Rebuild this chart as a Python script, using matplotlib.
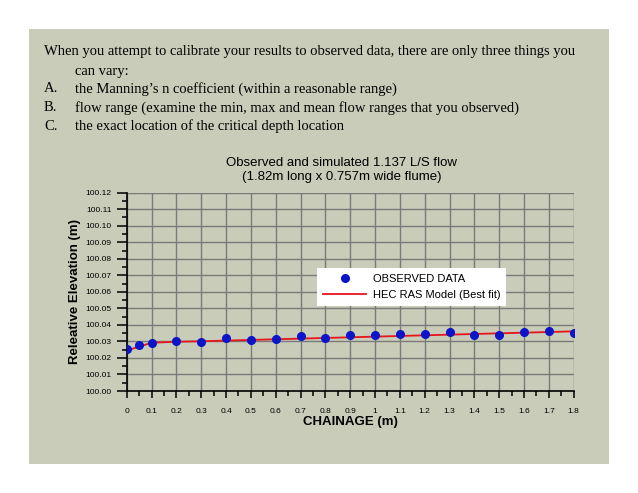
import matplotlib
matplotlib.use("Agg")
import matplotlib.pyplot as plt
from matplotlib.patches import Rectangle
from matplotlib.ticker import MultipleLocator, FuncFormatter

plt.rcParams["font.family"] = ["Liberation Sans", "DejaVu Sans"]

# observed water surface
obs_x = [0, 0.05, 0.1, 0.2, 0.3, 0.4, 0.5, 0.6, 0.7, 0.8, 0.9,
         1.0, 1.1, 1.2, 1.3, 1.4, 1.5, 1.6, 1.7, 1.8]
obs_y = [100.0254, 100.0280, 100.0292, 100.0304, 100.0296, 100.0322, 100.0308,
         100.0314, 100.0332, 100.0318, 100.0340, 100.0336, 100.0346, 100.0346,
         100.0356, 100.0340, 100.0338, 100.0360, 100.0362, 100.0348]

# HEC RAS best fit profile
model_x = obs_x
model_y = [100.0245, 100.0268, 100.0292, 100.0298, 100.0301, 100.0305, 100.0309,
           100.0313, 100.0317, 100.0321, 100.0325, 100.0329, 100.0333, 100.0337,
           100.0341, 100.0345, 100.0349, 100.0353, 100.0357, 100.0361]

bullets = [
    ("", "When you attempt to calibrate your results to observed data, there are only three things you"),
    ("", "can vary:"),
    ("A.", "the Manning\u2019s n coefficient (within a reasonable range)"),
    ("B.", "flow range (examine the min, max and mean flow ranges that you observed)"),
    ("C.", "the exact location of the critical depth location"),
]

W, H = 638, 493
fig = plt.figure(figsize=(W / 100, H / 100), dpi=100)
fig.patch.set_facecolor("white")
bg = "#c9ccb8"
fig.patches.append(Rectangle((29 / W, 1 - 464 / H), 580 / W, 435 / H,
                             transform=fig.transFigure, facecolor=bg,
                             edgecolor="none", zorder=-10))

serif = "Liberation Serif"
ys = [52, 71, 89, 108, 126]
for (lab, txt), y in zip(bullets, ys):
    if lab:
        fig.text(44 / W, 1 - y / H, lab, family=serif, fontsize=10.5, va="center")
        fig.text(75 / W, 1 - y / H, txt, family=serif, fontsize=10.5, va="center")
    elif txt.startswith("can"):
        fig.text(75 / W, 1 - y / H, txt, family=serif, fontsize=10.5, va="center")
    else:
        fig.text(44 / W, 1 - y / H, txt, family=serif, fontsize=10.5, va="center")

ax = fig.add_axes([126.7 / W, 1 - 391 / H, 447 / W, 198.3 / H])
ax.set_facecolor(bg)
ax.plot(model_x, model_y, color="#e8141c", lw=1.3, label="HEC RAS Model (Best fit)", zorder=3)
ax.plot(obs_x, obs_y, "o", color="#0a14c8", ms=5.5, label="OBSERVED DATA", zorder=4)

ax.set_xlim(0, 1.8)
ax.set_ylim(100.0, 100.12)
ax.xaxis.set_major_locator(MultipleLocator(0.1))
ax.xaxis.set_minor_locator(MultipleLocator(0.05))
ax.yaxis.set_major_locator(MultipleLocator(0.01))
ax.yaxis.set_minor_locator(MultipleLocator(0.005))
ax.xaxis.set_major_formatter(FuncFormatter(lambda v, p: f"{v:.1f}".rstrip("0").rstrip(".")))
ax.yaxis.set_major_formatter(FuncFormatter(lambda v, p: f"{v:.2f}"))
ax.grid(which="major", color="#7a7a7a", lw=1.0)
for s in ("top", "right"):
    ax.spines[s].set_visible(False)
for s in ("left", "bottom"):
    ax.spines[s].set_linewidth(1.2)
ax.tick_params(which="major", labelsize=6, width=1.1, colors="black")
ax.tick_params(axis="y", which="major", length=7, pad=4)
ax.tick_params(axis="y", which="minor", length=3.5, width=1.1)
ax.tick_params(axis="x", which="major", length=5, pad=7)
ax.tick_params(axis="x", which="minor", length=3.5, width=1.1)

ax.set_xlabel("CHAINAGE (m)", fontsize=9.5, fontweight="bold", labelpad=1)
ax.set_ylabel("Releative Elevation (m)", fontsize=9.5, fontweight="bold", labelpad=3)

fig.text(342 / W, 1 - 170 / H,
         "Observed and simulated 1.137 L/S flow\n(1.82m long x 0.757m wide flume)",
         ha="center", va="center", fontsize=9.5, linespacing=1.3)

h, l = ax.get_legend_handles_labels()
leg = ax.legend(h[::-1], l[::-1], loc="upper left",
                bbox_to_anchor=(317 / W, 1 - 268 / H), bbox_transform=fig.transFigure,
                fontsize=8, frameon=True, fancybox=False, framealpha=1,
                handlelength=3.9, borderpad=0.55, labelspacing=0.5, handletextpad=0.55,
                borderaxespad=0)
leg.get_frame().set_edgecolor("none")

fig.savefig("out.png", dpi=100)
